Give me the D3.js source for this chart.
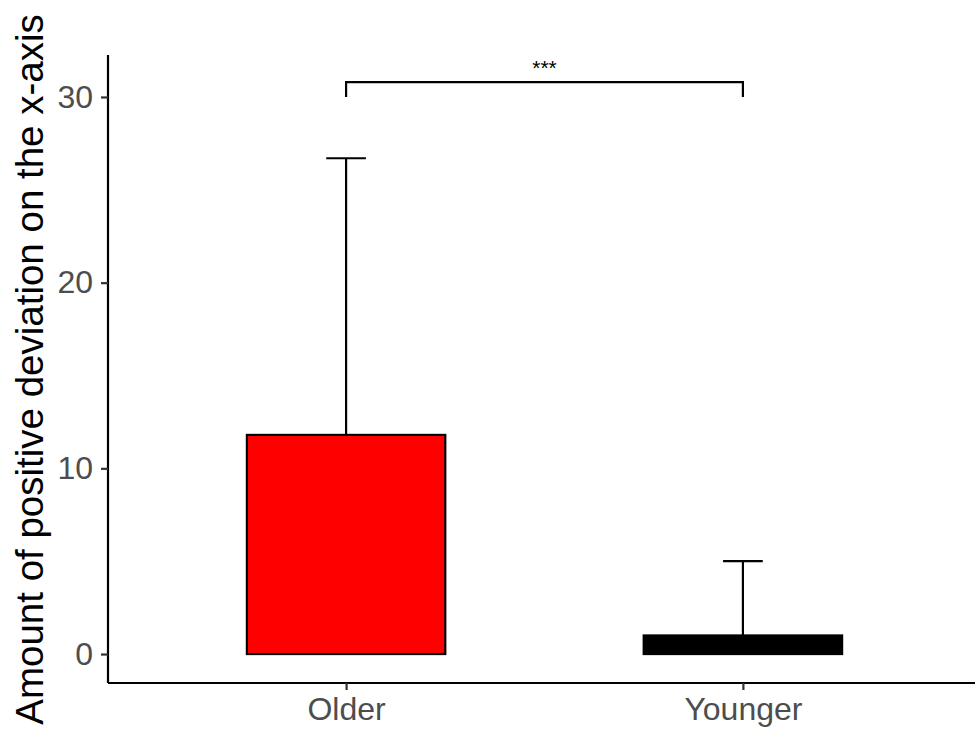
<!DOCTYPE html>
<html>
<head>
<meta charset="utf-8">
<script src="https://cdn.jsdelivr.net/npm/d3@7"></script>
<style>
  html, body { margin: 0; padding: 0; background: #fff; }
  svg { display: block; font-family: "Liberation Sans", Arial, sans-serif; }
</style>
</head>
<body>
<svg id="chart" width="975" height="733"></svg>
<script>
// Groups and their box summaries
const groups = ["Older", "Younger"];
const boxLower = [0, 0];
const boxUpper = [11.8, 1];
const whiskerUpper = [26.7, 5];
const boxFill = ["#ff0000", "#000000"];
const yTicks = [0, 10, 20, 30];
const sigBracket = { from: "Older", to: "Younger", top: 30.8, foot: 30, label: "***" };
const yTitle = "Amount of positive deviation on the x-axis";

const W = 975, H = 733;
const mLeft = 108, mBottom = 683, mTop = 55;

const svg = d3.select("#chart");

const x = d3.scalePoint().domain(groups).range([mLeft, 981]).padding(0.6);
const y = d3.scaleLinear().domain([-1.56, 32.26]).range([mBottom, mTop]);

const step = x.step();
const boxW = step * 0.5;
const capW = step * 0.1;

// boxes
const g = svg.append("g");
groups.forEach((k, i) => {
  const cx = x(k);
  // whisker
  g.append("line")
    .attr("x1", cx).attr("x2", cx)
    .attr("y1", y(boxUpper[i])).attr("y2", y(whiskerUpper[i]))
    .attr("stroke", "#000").attr("stroke-width", 2.2);
  g.append("line")
    .attr("x1", cx - capW / 2).attr("x2", cx + capW / 2)
    .attr("y1", y(whiskerUpper[i])).attr("y2", y(whiskerUpper[i]))
    .attr("stroke", "#000").attr("stroke-width", 2.2);
  g.append("rect")
    .attr("x", cx - boxW / 2).attr("width", boxW)
    .attr("y", y(boxUpper[i])).attr("height", y(boxLower[i]) - y(boxUpper[i]))
    .attr("fill", boxFill[i]).attr("stroke", "#000").attr("stroke-width", 2.2);
});

// significance bracket
const bx1 = x(sigBracket.from), bx2 = x(sigBracket.to);
g.append("path")
  .attr("d", `M${bx1},${y(sigBracket.foot)}V${y(sigBracket.top)}H${bx2}V${y(sigBracket.foot)}`)
  .attr("fill", "none").attr("stroke", "#000").attr("stroke-width", 2.2);
g.append("text")
  .attr("x", (bx1 + bx2) / 2).attr("y", y(sigBracket.top) - 7)
  .attr("text-anchor", "middle").attr("font-size", 21).attr("fill", "#000")
  .text(sigBracket.label);

// axes
const yAxis = svg.append("g").attr("transform", `translate(${mLeft},0)`)
  .call(d3.axisLeft(y).tickValues(yTicks).tickSize(7).tickPadding(8).tickSizeOuter(0));
const xAxis = svg.append("g").attr("transform", `translate(0,${mBottom})`)
  .call(d3.axisBottom(x).tickSize(7).tickPadding(5).tickSizeOuter(0));

[yAxis, xAxis].forEach(a => {
  a.select(".domain").attr("stroke", "#000").attr("stroke-width", 2.2);
  a.selectAll(".tick line").attr("stroke", "#333").attr("stroke-width", 2.2);
  a.selectAll(".tick text").attr("fill", "#4d4d4d").attr("font-size", 32)
    .attr("font-family", "Liberation Sans, Arial, sans-serif");
});
yAxis.select(".domain").attr("d", `M0,${mTop}V${mBottom}`);
xAxis.select(".domain").attr("d", `M${mLeft},0H${W}`);
xAxis.selectAll(".tick text").attr("dy", "0.78em");

// y title
svg.append("text")
  .attr("transform", `translate(43,${(13 + 726) / 2}) rotate(-90)`)
  .attr("text-anchor", "middle").attr("font-size", 38.5).attr("fill", "#000")
  .text(yTitle);
</script>
</body>
</html>
